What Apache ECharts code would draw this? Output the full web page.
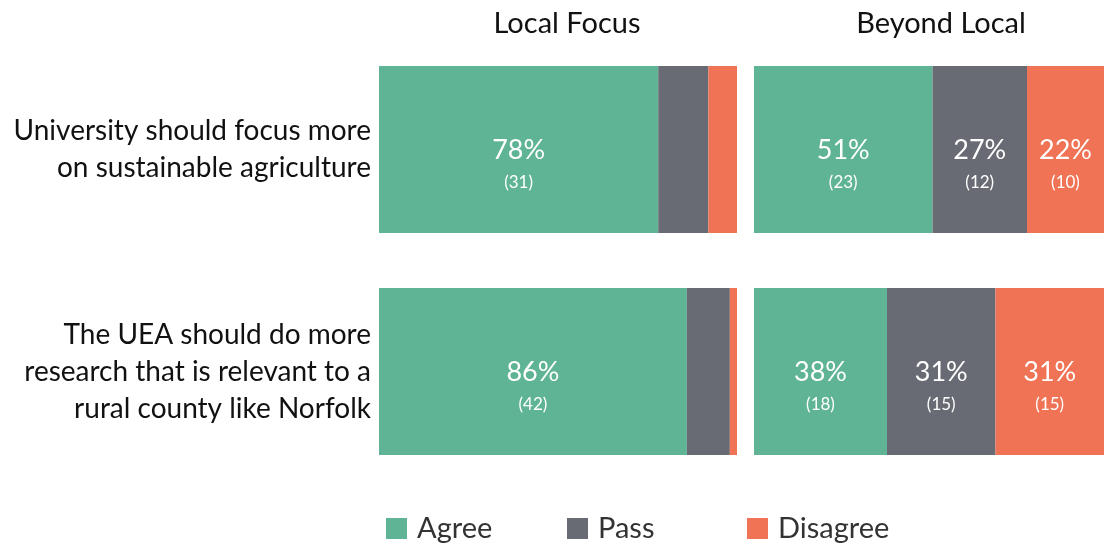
<!DOCTYPE html>
<html>
<head>
<meta charset="utf-8">
<script src="https://cdn.jsdelivr.net/npm/echarts@6/dist/echarts.min.js"></script>
<style>
  html, body { margin: 0; padding: 0; background: #fff; }
  #chart { width: 1104px; height: 545px; }
</style>
</head>
<body>
<div id="chart"></div>
<script>
// Survey statements (top to bottom)
const categories = [
  'University should focus more\non sustainable agriculture',
  'The UEA should do more\nresearch that is relevant to a\nrural county like Norfolk'
];
const panelTitles = ['Local Focus', 'Beyond Local'];
const responses = ['Agree', 'Pass', 'Disagree'];

// Share of respondents (%) and respondent counts, Local Focus
const localAgree = [78, 86];
const localPass = [14, 12];
const localDisagree = [8, 2];
const localAgreeN = [31, 42];
const localPassN = [6, 6];
const localDisagreeN = [3, 1];

// Share of respondents (%) and respondent counts, Beyond Local
const beyondAgree = [51, 38];
const beyondPass = [27, 31];
const beyondDisagree = [22, 31];
const beyondAgreeN = [23, 18];
const beyondPassN = [12, 15];
const beyondDisagreeN = [10, 15];

const colors = { Agree: '#5eb495', Pass: '#686b73', Disagree: '#ef7354' };
const FONT = 'Lato';

function segment(name, values, counts, gridIdx) {
  return {
    type: 'bar',
    name: name,
    stack: 'panel' + gridIdx,
    xAxisIndex: gridIdx,
    yAxisIndex: gridIdx,
    barWidth: 167,
    itemStyle: { color: colors[name] },
    data: values.map((v, i) => ({
      value: v,
      count: counts[i],
      label: { show: v >= 15 }
    })),
    label: {
      position: 'inside',
      offset: [0, 17],
      formatter: p => '{pct|' + p.value + '%}\n{cnt|(' + p.data.count + ')}',
      rich: {
        pct: { fontFamily: FONT, fontSize: 27, color: '#fff', lineHeight: 33, align: 'center' },
        cnt: { fontFamily: FONT, fontSize: 17, color: '#fff', lineHeight: 33, align: 'center' }
      }
    },
    emphasis: { disabled: true }
  };
}

const chart = echarts.init(document.getElementById('chart'), null, { renderer: 'canvas' });

const legendLefts = [386, 567, 747];
const titleStyle = { fontFamily: FONT, fontSize: 29, fontWeight: 'normal', color: '#111' };

chart.setOption({
  animation: false,
  textStyle: { fontFamily: FONT },
  title: [
    { text: panelTitles[0], left: 562, top: 4, textAlign: 'center', textStyle: titleStyle },
    { text: panelTitles[1], left: 936, top: 4, textAlign: 'center', textStyle: titleStyle }
  ],
  legend: responses.map((r, i) => ({
    data: [r],
    left: legendLefts[i],
    top: 514,
    padding: 0,
    itemWidth: 21,
    itemHeight: 21,
    itemGap: 10,
    icon: 'rect',
    selectedMode: false,
    textStyle: { fontFamily: FONT, fontSize: 29, color: '#333', padding: [0, 0, 0, 5] }
  })),
  grid: [
    { left: 379, width: 358, top: 38.5, height: 444 },
    { left: 754, width: 350, top: 38.5, height: 444 }
  ],
  xAxis: [0, 1].map(i => ({
    type: 'value', gridIndex: i, min: 0, max: 100, show: false
  })),
  yAxis: [0, 1].map(i => ({
    type: 'category',
    gridIndex: i,
    data: categories,
    inverse: true,
    axisLine: { show: false },
    axisTick: { show: false },
    axisLabel: {
      show: i === 0,
      margin: 8,
      fontFamily: FONT,
      fontSize: 28,
      lineHeight: 37,
      color: '#111',
      align: 'right'
    }
  })),
  series: [
    segment('Agree', localAgree, localAgreeN, 0),
    segment('Pass', localPass, localPassN, 0),
    segment('Disagree', localDisagree, localDisagreeN, 0),
    segment('Agree', beyondAgree, beyondAgreeN, 1),
    segment('Pass', beyondPass, beyondPassN, 1),
    segment('Disagree', beyondDisagree, beyondDisagreeN, 1)
  ]
});
</script>
</body>
</html>
